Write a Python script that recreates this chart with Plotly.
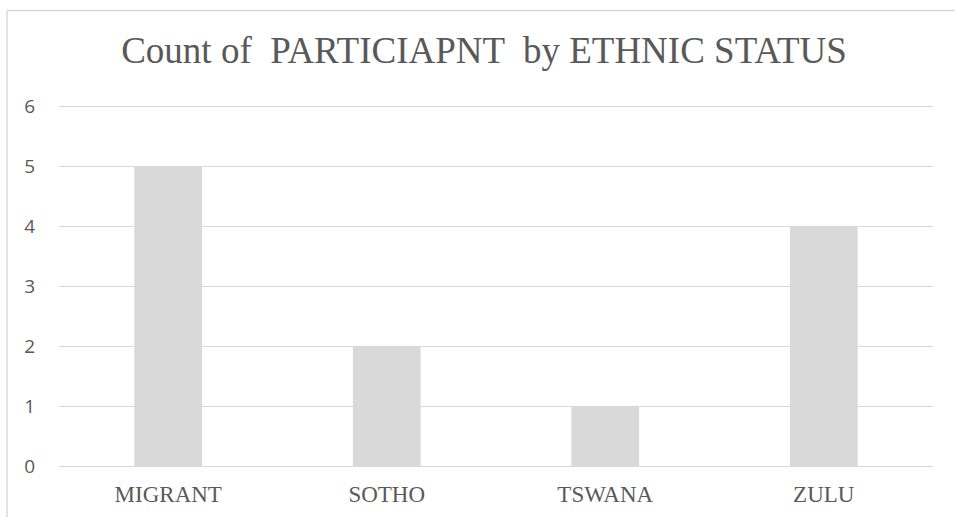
import plotly.graph_objects as go

categories = ["MIGRANT", "SOTHO", "TSWANA", "ZULU"]
counts = [5, 2, 1, 4]
y_ticks = [0, 1, 2, 3, 4, 5, 6]

W, H = 955, 517
unit = 60.0
eps = 0.05
y0_px, y6_px = 466, 106
L, R = 59, 22
T = y6_px - eps * unit
B = H - (y0_px + eps * unit)
pw, ph = W - L - R, H - T - B

fig = go.Figure(go.Bar(x=categories, y=counts, marker=dict(color="#d9d9d9", line=dict(width=0)),
                       hoverinfo="skip"))

grey = "#595959"
top_border_paper = (H - B - 10.5) / ph

fig.update_layout(
    width=W, height=H,
    margin=dict(l=L, r=R, t=T, b=B, pad=0, autoexpand=False),
    paper_bgcolor="white", plot_bgcolor="white",
    bargap=0.69,
    showlegend=False,
    title=dict(text="Count of  PARTICIAPNT  by ETHNIC STATUS", x=484 / W, xanchor="center",
               y=1 - 50 / H, yanchor="middle", yref="container", automargin=False,
               font=dict(family="Liberation Serif", size=37, color=grey)),
    xaxis=dict(showgrid=False, showline=False, zeroline=False, automargin=False,
               ticks="outside", ticklen=4, tickcolor="rgba(0,0,0,0)",
               tickfont=dict(family="Liberation Serif", size=23, color=grey)),
    yaxis=dict(range=[-eps, 6 + eps], tickvals=y_ticks, showgrid=True, gridcolor="#d9d9d9", gridwidth=1.3,
               zeroline=False, showline=False, automargin=False,
               ticks="outside", ticklen=19, tickcolor="rgba(0,0,0,0)",
               tickfont=dict(family="Open Sans", size=19, color=grey)),
    shapes=[
        dict(type="line", xref="paper", yref="paper", x0=(7 - L) / pw, x1=1.2,
             y0=top_border_paper, y1=top_border_paper, line=dict(color="#d9d9d9", width=1.5)),
        dict(type="line", xref="paper", yref="paper", x0=(7 - L) / pw, x1=(7 - L) / pw,
             y0=-0.3, y1=top_border_paper, line=dict(color="#d9d9d9", width=1.5)),
    ],
)

fig.write_html("out.html")
